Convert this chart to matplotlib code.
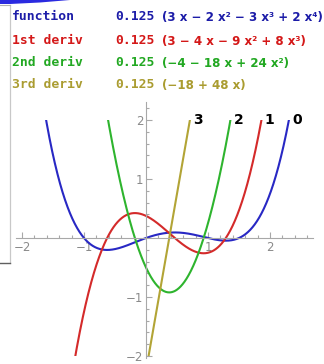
import numpy as np
import matplotlib.pyplot as plt
from matplotlib.patches import Polygon, Rectangle
from matplotlib.lines import Line2D
from matplotlib.ticker import FixedLocator

# polynomial coefficients, lowest power first, all scaled by 0.125
SCALE = 0.125
COEFFS = [
    [0, 3, -2, -3, 2],   # function
    [3, -4, -9, 8],      # 1st deriv
    [-4, -18, 24],       # 2nd deriv
    [-18, 48],           # 3rd deriv
]
NAMES = ['function', '1st deriv', '2nd deriv', '3rd deriv']
FORMULAS = [
    '(3 x \u2212 2 x\u00b2 \u2212 3 x\u00b3 + 2 x\u2074)',
    '(3 \u2212 4 x \u2212 9 x\u00b2 + 8 x\u00b3)',
    '(\u22124 \u2212 18 x + 24 x\u00b2)',
    '(\u221218 + 48 x)',
]
TAGS = ['0', '1', '2', '3']
LINE_COLOR = ['#2828c4', '#d42a2a', '#2eb42e', '#b2a436']
TEXT_COLOR = ['#1c1ca8', '#d41818', '#22a822', '#aa9c30']

W, H = 324, 364
fig = plt.figure(figsize=(W / 100, H / 100), dpi=100)

def fx(px):
    return px / W

def fy(py):
    return 1 - py / H

# header rows: name, factor, polynomial
rows_y = [17, 41, 63, 85]
for name, form, col, yy in zip(NAMES, FORMULAS, TEXT_COLOR, rows_y):
    fig.text(fx(12), fy(yy), name, color=col, family='DejaVu Sans Mono',
        weight='bold', fontsize=9.4, va='center')
    fig.text(fx(115), fy(yy), '%.3f' % SCALE, color=col, family='DejaVu Sans Mono',
        weight='bold', fontsize=9.4, va='center')
    fig.text(fx(162), fy(yy), form, color=col, family='DejaVu Sans',
        weight='bold', fontsize=8.6, va='center')

# cell frame bits along the left edge
fig.add_artist(Line2D([fx(9.5), fx(9.5)], [fy(5), fy(263)], color='#c8c8c8', lw=0.9))
fig.add_artist(Line2D([fx(0), fx(10)], [fy(263), fy(263)], color='#606060', lw=1.0))
fig.add_artist(Line2D([fx(0), fx(10)], [fy(5), fy(5)], color='#b0b0b0', lw=0.8))
fig.add_artist(Polygon([(fx(0), fy(0)), (fx(70), fy(0)), (fx(40), fy(2.5)),
    (fx(10), fy(4)), (fx(0), fy(4))], closed=True, color='#2a2ae0', lw=0))

# plot area
x0, x1 = -2.1, 2.7
y0, y1 = -2.03, 2.3
ax = fig.add_axes([fx(15.8), fy(357.8), (313.4 - 15.8) / W, (357.8 - 102.3) / H])
ax.set_xlim(x0, x1)
ax.set_ylim(y0, y1)
ax.patch.set_alpha(0)

for s in ['top', 'right']:
    ax.spines[s].set_visible(False)
for s in ['left', 'bottom']:
    ax.spines[s].set_position('zero')
    ax.spines[s].set_color('#a8a8a8')
    ax.spines[s].set_linewidth(0.8)

ax.xaxis.set_major_locator(FixedLocator([-2, -1, 1, 2]))
ax.yaxis.set_major_locator(FixedLocator([-2, -1, 1, 2]))
ax.xaxis.set_minor_locator(FixedLocator([v for v in np.arange(-2.0, 2.71, 0.2) if abs(v - round(v)) > 1e-6]))
ax.yaxis.set_minor_locator(FixedLocator([v for v in np.arange(-2.0, 2.21, 0.2) if abs(v - round(v)) > 1e-6]))
ax.set_xticklabels(['\u22122', '\u22121', '1', '2'])
ax.set_yticklabels(['\u22122', '\u22121', '1', '2'])
ax.tick_params(which='both', direction='in', color='#a8a8a8', width=0.8,
    labelcolor='#8a8a8a', labelsize=8.5, pad=2)
ax.tick_params(which='major', length=4)
ax.tick_params(which='minor', length=2.5)

clip = Rectangle((x0, -2), x1 - x0, 4, transform=ax.transData)
xs = np.linspace(-2.1, 2.7, 2000)
for c, col, tag in zip(COEFFS, LINE_COLOR, TAGS):
    p = np.polynomial.Polynomial(c) * SCALE
    line, = ax.plot(xs, p(xs), color=col, lw=1.5, solid_capstyle='butt')
    line.set_clip_path(clip)
    # label sits where the curve leaves the top of the range
    r = (p - 2).roots()
    xe = max(r.real[np.abs(r.imag) < 1e-9])
    ax.annotate(tag, (xe, 2.0), xytext=(2.5, 0), textcoords='offset points',
        fontsize=10, weight='bold', va='center', ha='left', color='black')

fig.savefig('out.png', dpi=100)
